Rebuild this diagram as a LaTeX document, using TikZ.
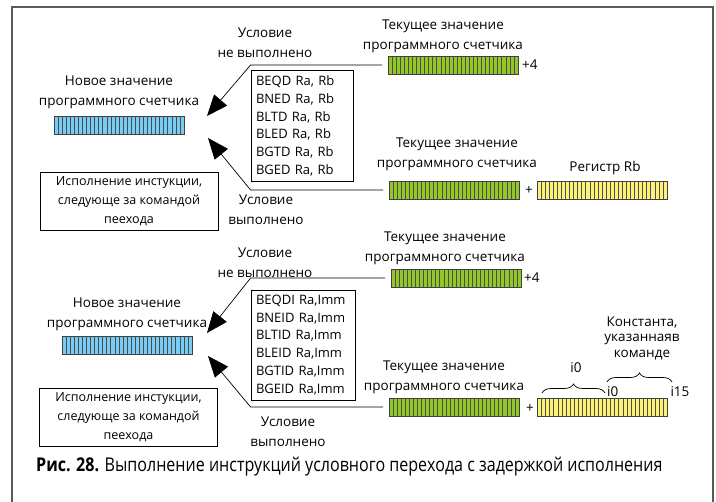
\documentclass[tikz,border=0pt]{standalone}
\usepackage{fontspec}
\setmainfont{Open Sans}
\newfontfamily\capfont[FakeStretch=0.845]{Open Sans}
\usetikzlibrary{arrows.meta,decorations.pathreplacing}

\definecolor{pcblue}{RGB}{120,205,245}
\definecolor{pcgreen}{RGB}{145,200,40}
\definecolor{pcyellow}{RGB}{253,242,120}
\definecolor{framegray}{RGB}{90,90,90}

\tikzset{
  lbl/.style={align=center, inner sep=0pt, font=\fontsize{13.5}{20}\selectfont},
  regbar/.style={draw=black!75, fill=#1, line width=0.8pt, minimum width=130pt,
    minimum height=18pt, inner sep=0pt, outer sep=0pt,
    path picture={
      \foreach \k in {1,...,31}
        \draw[black!70, line width=0.6pt] ([xshift=\k*4.0625pt]path picture bounding box.south west)
          -- ([xshift=\k*4.0625pt]path picture bounding box.north west);
    }},
  instrbox/.style={draw, line width=0.8pt, align=left, inner sep=5pt, text width=#1,
    font=\fontsize{13}{17.8}\selectfont},
  execbox/.style={draw, line width=0.8pt, align=center, inner sep=0pt,
    minimum width=178pt, minimum height=58pt, font=\fontsize{12.5}{19}\selectfont},
  cond/.style={line width=0.7pt, -{Triangle[length=21pt,width=17pt]}},
}

\begin{document}
\begin{tikzpicture}[x=1pt, y=-1pt]
        \useasboundingbox[fill=white] (0,0) rectangle (716,502);

        % Frame
        \draw[framegray, line width=1.2pt] (12,502) -- (12,7) -- (713,7) -- (713,502);

        % ---- Upper part: register branches ----
        \node[lbl] (nsat1) at (265,43) {Условие\\не выполнено};
        \node[lbl] (newlbl1) at (119,92) {Новое значение\\программного счетчика};
        \node[regbar=pcblue] (newpc1) at (119,125) {};
        \node[instrbox=92pt] (instr1) at (302,126) {BEQD Ra, Rb\\BNED Ra, Rb\\BLTD Ra, Rb\\BLED Ra, Rb\\BGTD Ra, Rb\\BGED Ra, Rb};
        \node[execbox] (exec1) at (129,201) {Исполнение инстукции,\\следующе за командой\\пеехода};
        \node[lbl] (sat1) at (266,210) {Условие\\выполнено};

        \node[lbl] (curlbl1) at (443,36) {Текущее значение\\программного счетчика};
        \node[regbar=pcgreen] (cur1) at (453,65) {};
        \node[lbl, anchor=west] (plus1) at ([xshift=4pt]cur1.east) {+4};

        \node[lbl] (curlbl2) at (457,154) {Текущее значение\\программного счетчика};
        \node[regbar=pcgreen] (cur2) at (454,190) {};
        \node[lbl] (plus2) at (529,190) {+};
        \node[regbar=pcyellow] (rb) at (602,190) {};
        \node[lbl] (rblbl) at (605,168) {Регистр Rb};

        \coordinate (tip1) at (207,116);
        \coordinate (tip2) at (208,138);
        \draw[cond] ([xshift=-6pt]cur1.west) -- (cur1.west -| instr1.west) -- (tip1);
        \draw[cond] ([xshift=-6pt]cur2.west) -- (cur2.west -| instr1.west) -- (tip2);

        % ---- Lower part: immediate branches ----
        \node[lbl] (nsat2) at (265,263) {Условие\\не выполнено};
        \node[lbl] (newlbl2) at (127,314) {Новое значение\\программного счетчика};
        \node[regbar=pcblue] (newpc2) at (127,345) {};
        \node[instrbox=94pt] (instr2) at (303,345) {BEQDI Ra,Imm\\BNEID Ra,Imm\\BLTID Ra,Imm\\BLEID Ra,Imm\\BGTID Ra,Imm\\BGEID Ra,Imm};
        \node[execbox] (exec2) at (128.5,417.5) {Исполнение инстукции,\\следующе за командой\\пеехода};
        \node[lbl] (sat2) at (288,432) {Условие\\выполнено};

        \node[lbl] (curlbl3) at (445,248) {Текущее значение\\программного счетчика};
        \node[regbar=pcgreen] (cur3) at (456,278) {};
        \node[lbl, anchor=west] (plus3) at ([xshift=3pt]cur3.east) {+4};

        \node[lbl] (curlbl4) at (444,377) {Текущее значение\\программного счетчика};
        \node[regbar=pcgreen] (cur4) at (454,407) {};
        \node[lbl] (plus4) at (530,408) {+};
        \node[regbar=pcyellow] (imm) at (602.5,407) {};

        % Braces over the constant
        \draw[line width=0.7pt, decorate, decoration={brace, amplitude=9pt}] (542,393) -- (605,393);
        \node[lbl] (ilbl0) at (576,368) {i0};
        \draw[line width=0.7pt, decorate, decoration={brace, amplitude=9pt}] (607,382) -- (672,382);
        \node[lbl, font=\fontsize{13.5}{15.5}\selectfont] (constlbl) at (642,338) {Константа,\\указаннаяв\\команде};
        \node[lbl, anchor=west] (ilbl1) at (607,392) {i0};
        \node[lbl] (ilbl15) at (680,392) {i15};

        \coordinate (tip3) at (207,333);
        \coordinate (tip4) at (208,356);
        \draw[cond] ([xshift=-6pt]cur3.west) -- (cur3.west -| instr2.west) -- (tip3);
        \draw[cond] ([xshift=-6pt]cur4.west) -- (cur4.west -| instr2.west) -- (tip4);

        % Caption
        \node[anchor=west, inner sep=0pt, font=\capfont\fontsize{19}{22}\selectfont] (caption) at (36,467)
          {\textbf{Рис. 28.} Выполнение инструкций условного перехода с задержкой исполнения};

\end{tikzpicture}
\end{document}
